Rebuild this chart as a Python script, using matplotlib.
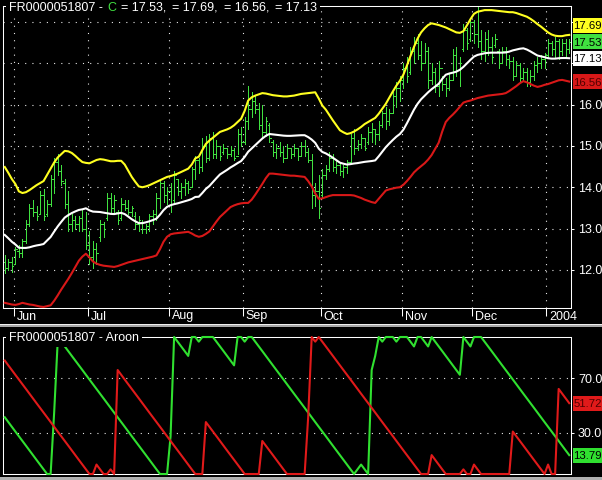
"""
plot.py
───────
Daily price bars with an upper / lower channel (and its mid line) on top,
Aroon up / down underneath, in the look of an old terminal screenshot.

Output: out.png (602 x 480 px)
"""

import numpy as np
import pandas as pd
import matplotlib
matplotlib.use("Agg")
import matplotlib.pyplot as plt
from matplotlib.patches import Rectangle
from matplotlib.ticker import FixedLocator, FuncFormatter, NullFormatter


# ── Data ───────────────────────────────────────────────────────────────
SYMBOL = "FR0000051807"
HOLIDAYS = ["2003-12-25", "2003-12-26", "2004-01-01"]
DATES = pd.bdate_range("2003-05-28", "2004-01-12").drop(pd.to_datetime(HOLIDAYS))

HIGH = [
    12.35, 12.25, 12.32, 12.55, 12.6, 12.75, 13.2, 13.6, 13.7, 13.55,
    13.9, 13.95, 13.7, 14.3, 14.7, 14.8, 14.55, 14.2, 13.9, 13.35,
    13.3, 13.3, 13.45, 13.4, 12.95, 12.7, 12.65, 13.2, 13.15, 13.85,
    13.85, 13.8, 13.45, 13.75, 13.7, 13.7, 13.55, 13.4, 13.3, 13.2,
    13.1, 13.35, 13.45, 13.85, 14.2, 14.15, 14.0, 14.1, 14.4, 14.2,
    14.1, 14.2, 14.15, 14.5, 14.75, 14.7, 15.2, 15.25, 15.3, 15.35,
    15.15, 15.0, 15.05, 14.95, 15.0, 14.95, 15.4, 15.45, 15.7, 16.45,
    16.3, 16.2, 16.05, 16.0, 15.7, 15.55, 15.15, 15.05, 15.1, 15.0,
    15.05, 14.95, 15.05, 14.95, 15.1, 15.15, 14.95, 14.8, 14.1, 14.3,
    14.45, 14.55, 14.85, 14.8, 14.65, 14.6, 14.55, 14.65, 15.3, 15.4,
    15.15, 15.3, 15.2, 15.45, 15.55, 15.4, 15.6, 15.85, 15.95, 15.9,
    16.3, 16.55, 16.7, 17.0, 17.15, 17.4, 17.65, 17.7, 17.55, 17.5,
    17.4, 17.0, 16.9, 17.05, 16.7, 16.65, 16.75, 17.35, 17.4, 17.15,
    17.95, 17.85, 18.1, 18.05, 18.38, 17.8, 17.75, 17.8, 17.65, 17.7,
    17.35, 17.4, 17.4, 17.2, 17.15, 17.05, 17.0, 16.9, 16.9, 16.85,
    17.05, 17.15, 17.2, 17.25, 17.6, 17.55, 17.65, 17.6, 17.6, 17.6,
    17.6,
]
LOW = [
    11.92, 12.0, 11.95, 12.15, 12.3, 12.3, 12.65, 13.05, 13.3, 13.2,
    13.35, 13.2, 13.3, 13.55, 13.85, 14.3, 14.05, 13.5, 12.95, 12.95,
    13.0, 12.95, 12.95, 12.5, 12.15, 12.05, 12.15, 12.7, 12.8, 13.2,
    13.4, 13.4, 13.1, 13.2, 13.45, 13.35, 13.3, 13.0, 12.95, 12.9,
    12.9, 12.95, 13.1, 13.2, 13.5, 13.65, 13.6, 13.4, 13.65, 13.8,
    13.75, 13.8, 13.85, 14.0, 14.2, 14.35, 14.4, 14.6, 14.65, 14.7,
    14.7, 14.65, 14.8, 14.7, 14.75, 14.65, 14.8, 15.0, 15.05, 15.4,
    15.7, 15.8, 15.4, 15.2, 15.25, 15.1, 14.75, 14.7, 14.75, 14.6,
    14.7, 14.7, 14.75, 14.65, 14.75, 14.75, 14.6, 13.5, 13.55, 13.25,
    13.75, 14.2, 14.4, 14.4, 14.35, 14.3, 14.25, 14.35, 14.6, 14.8,
    14.9, 14.95, 14.9, 15.05, 15.1, 15.05, 15.15, 15.45, 15.4, 15.5,
    15.8, 15.95, 16.1, 16.4, 16.55, 16.75, 17.0, 17.1, 16.85, 17.0,
    16.4, 16.5, 16.3, 16.2, 16.35, 16.2, 16.35, 16.6, 16.7, 16.45,
    17.3, 17.35, 17.55, 17.5, 17.4, 17.1, 17.05, 17.2, 17.0, 17.4,
    16.9, 17.0, 16.95, 16.9, 16.6, 16.7, 16.55, 16.6, 16.45, 16.45,
    16.6, 16.8, 16.9, 16.9, 17.15, 17.2, 17.15, 17.1, 17.2, 17.15,
    17.25,
]
OPEN = [
    12.2, 12.05, 12.2, 12.15, 12.45, 12.4, 12.7, 13.1, 13.5, 13.4,
    13.35, 13.8, 13.35, 13.6, 14.2, 14.6, 14.4, 14.1, 13.6, 13.1,
    13.2, 13.1, 13.25, 13.0, 12.6, 12.3, 12.5, 12.8, 13.1, 13.25,
    13.75, 13.5, 13.4, 13.25, 13.6, 13.5, 13.4, 13.3, 13.1, 13.15,
    13.0, 13.05, 13.3, 13.35, 13.75, 14.1, 13.8, 13.9, 13.7, 14.2,
    13.9, 14.0, 14.1, 14.0, 14.45, 14.65, 14.5, 15.0, 14.7, 15.2,
    14.8, 15.0, 14.85, 14.95, 14.8, 14.9, 14.75, 15.3, 15.1, 15.6,
    15.9, 16.1, 15.9, 15.5, 15.35, 15.5, 15.1, 14.85, 14.95, 14.85,
    14.7, 14.95, 14.8, 14.95, 14.75, 15.0, 14.85, 14.65, 13.8, 13.9,
    13.8, 14.3, 14.45, 14.7, 14.5, 14.55, 14.4, 14.5, 14.6, 15.2,
    14.95, 15.05, 15.2, 15.1, 15.35, 15.4, 15.3, 15.5, 15.8, 15.6,
    15.8, 16.2, 16.4, 16.6, 16.9, 16.8, 17.3, 17.5, 17.2, 17.0,
    17.3, 16.6, 16.8, 16.45, 16.9, 16.5, 16.4, 16.6, 17.2, 16.85,
    17.35, 17.8, 17.6, 18.0, 17.7, 17.55, 17.3, 17.6, 17.4, 17.45,
    17.3, 17.0, 17.3, 17.1, 17.05, 16.7, 16.95, 16.65, 16.8, 16.55,
    16.7, 16.95, 17.0, 17.1, 17.2, 17.5, 17.35, 17.55, 17.3, 17.5,
    17.35,
]
CLOSE = [
    12.05, 12.2, 12.1, 12.5, 12.4, 12.7, 13.1, 13.5, 13.4, 13.3,
    13.8, 13.3, 13.6, 14.2, 14.6, 14.4, 14.15, 13.6, 13.1, 13.2,
    13.1, 13.25, 13.0, 12.6, 12.3, 12.5, 12.4, 13.1, 13.0, 13.75,
    13.5, 13.7, 13.2, 13.6, 13.5, 13.4, 13.5, 13.1, 13.2, 13.0,
    13.05, 13.3, 13.35, 13.75, 14.1, 13.8, 13.9, 13.6, 14.3, 13.9,
    14.0, 14.1, 13.95, 14.45, 14.65, 14.5, 15.0, 14.7, 15.2, 14.8,
    15.0, 14.75, 14.95, 14.8, 14.9, 14.7, 15.3, 15.1, 15.6, 15.9,
    16.1, 15.9, 15.5, 15.35, 15.6, 15.2, 14.85, 14.95, 14.85, 14.7,
    14.95, 14.8, 14.95, 14.75, 15.0, 14.85, 14.65, 13.8, 13.9, 13.5,
    14.3, 14.45, 14.7, 14.5, 14.55, 14.4, 14.5, 14.6, 15.2, 14.95,
    15.05, 15.2, 14.95, 15.35, 15.4, 15.3, 15.5, 15.8, 15.6, 15.8,
    16.2, 16.4, 16.6, 16.9, 16.7, 17.3, 17.5, 17.2, 17.0, 17.3,
    16.6, 16.8, 16.45, 16.9, 16.5, 16.4, 16.6, 17.2, 16.85, 17.0,
    17.8, 17.5, 18.0, 17.7, 17.55, 17.3, 17.6, 17.4, 17.15, 17.6,
    17.0, 17.3, 17.1, 17.05, 16.7, 16.95, 16.65, 16.8, 16.55, 16.7,
    16.95, 17.0, 17.1, 17.2, 17.5, 17.35, 17.55, 17.3, 17.5, 17.35,
    17.53,
]

# channel: yellow upper, red lower (white line is their midpoint)
UPPER = [
    14.49, 14.35, 14.2, 14.08, 13.9, 13.86, 13.88, 13.93, 13.99, 14.05,
    14.1, 14.15, 14.3, 14.45, 14.6, 14.72, 14.8, 14.88, 14.87, 14.83,
    14.76, 14.68, 14.61, 14.59, 14.58, 14.62, 14.66, 14.68, 14.67, 14.65,
    14.63, 14.63, 14.64, 14.64, 14.55, 14.4, 14.25, 14.13, 14.02, 14.0,
    14.02, 14.05, 14.09, 14.13, 14.17, 14.21, 14.25, 14.27, 14.3, 14.33,
    14.37, 14.41, 14.45, 14.55, 14.7, 14.74, 14.9, 15.05, 15.13, 15.2,
    15.27, 15.34, 15.37, 15.4, 15.44, 15.5, 15.58, 15.66, 15.85, 16.1,
    16.18, 16.22, 16.25, 16.28, 16.27, 16.25, 16.23, 16.22, 16.21, 16.2,
    16.2, 16.21, 16.22, 16.24, 16.26, 16.27, 16.28, 16.29, 16.3, 16.15,
    15.98, 15.88, 15.75, 15.62, 15.5, 15.38, 15.33, 15.29, 15.31, 15.35,
    15.4, 15.46, 15.53, 15.58, 15.63, 15.68, 15.78, 15.9, 16.02, 16.17,
    16.32, 16.46, 16.58, 16.73, 16.95, 17.18, 17.4, 17.6, 17.75, 17.85,
    17.93, 17.97, 17.95, 17.93, 17.9, 17.87, 17.83, 17.79, 17.75, 17.74,
    17.78, 17.92, 18.07, 18.2, 18.25, 18.27, 18.29, 18.29, 18.29, 18.28,
    18.27, 18.26, 18.25, 18.24, 18.24, 18.22, 18.19, 18.16, 18.13, 18.08,
    18.02, 17.95, 17.89, 17.82, 17.75, 17.7, 17.67, 17.66, 17.66, 17.68,
    17.69,
]
LOWER = [
    11.2, 11.18, 11.16, 11.15, 11.17, 11.2, 11.18, 11.16, 11.15, 11.13,
    11.11, 11.1, 11.12, 11.14, 11.25, 11.38, 11.52, 11.65, 11.78, 11.92,
    12.07, 12.22, 12.32, 12.39, 12.3, 12.2, 12.15, 12.12, 12.1, 12.09,
    12.08, 12.07, 12.09, 12.12, 12.15, 12.18, 12.2, 12.22, 12.24, 12.26,
    12.28, 12.3, 12.32, 12.35, 12.5, 12.68, 12.8, 12.86, 12.88, 12.89,
    12.9, 12.91, 12.92, 12.88, 12.83, 12.8, 12.82, 12.87, 12.93, 13.05,
    13.17, 13.28, 13.36, 13.44, 13.52, 13.56, 13.59, 13.61, 13.62, 13.62,
    13.7, 13.82, 13.95, 14.08, 14.22, 14.33, 14.33, 14.32, 14.31, 14.3,
    14.29, 14.28, 14.28, 14.27, 14.26, 14.25, 14.15, 14.02, 13.85, 13.72,
    13.73, 13.76, 13.79, 13.81, 13.81, 13.81, 13.81, 13.81, 13.81, 13.8,
    13.77, 13.74, 13.7, 13.67, 13.64, 13.62, 13.72, 13.82, 13.92, 13.95,
    13.97, 13.99, 14.0, 14.06, 14.15, 14.25, 14.36, 14.44, 14.51, 14.58,
    14.67, 14.78, 14.93, 15.08, 15.35, 15.58, 15.68, 15.76, 15.85, 15.95,
    16.05, 16.08, 16.1, 16.13, 16.16, 16.18, 16.2, 16.22, 16.23, 16.24,
    16.25, 16.26, 16.28, 16.33, 16.39, 16.45, 16.52, 16.57, 16.54, 16.5,
    16.46, 16.43, 16.45, 16.48, 16.5, 16.53, 16.56, 16.59, 16.6, 16.58,
    16.56,
]

AROON_UP = [
    41.4, 37.9, 34.5, 31.0, 27.6, 24.1, 20.7, 17.2, 13.8, 10.3,
    6.9, 3.4, 0, 0, 44.8, 96.6, 96.6, 93.1, 89.7, 86.2,
    82.8, 79.3, 75.9, 72.4, 69.0, 65.5, 62.1, 58.6, 55.2, 51.7,
    48.3, 44.8, 41.4, 37.9, 34.5, 31.0, 27.6, 24.1, 20.7, 17.2,
    13.8, 10.3, 6.9, 3.4, 0, 0, 0, 27.6, 100, 96.6,
    93.1, 89.7, 86.2, 100, 100, 96.6, 100, 100, 100, 100,
    96.6, 93.1, 89.7, 86.2, 82.8, 79.3, 100, 100, 96.6, 100,
    100, 96.6, 93.1, 89.7, 86.2, 82.8, 79.3, 75.9, 72.4, 69.0,
    65.5, 62.1, 58.6, 55.2, 51.7, 48.3, 44.8, 41.4, 37.9, 34.5,
    31.0, 27.6, 24.1, 20.7, 17.2, 13.8, 10.3, 6.9, 3.4, 0,
    3.4, 6.9, 3.4, 0, 75.9, 86.2, 100, 96.6, 100, 100,
    100, 96.6, 100, 100, 100, 96.6, 93.1, 100, 100, 96.6,
    93.1, 100, 96.6, 93.1, 89.7, 86.2, 82.8, 79.3, 75.9, 72.4,
    100, 96.6, 93.1, 100, 100, 100, 96.6, 93.1, 89.7, 86.2,
    82.8, 79.3, 75.9, 72.4, 69.0, 65.5, 62.1, 58.6, 55.2, 51.7,
    48.3, 44.8, 41.4, 37.9, 34.5, 31.0, 27.6, 24.1, 20.7, 17.2,
    13.79,
]
AROON_DOWN = [
    82.8, 79.3, 75.9, 72.4, 69.0, 65.5, 62.1, 58.6, 55.2, 51.7,
    48.3, 44.8, 41.4, 37.9, 34.5, 31.0, 27.6, 24.1, 20.7, 17.2,
    13.8, 10.3, 6.9, 3.4, 0, 0, 6.9, 3.4, 0, 0,
    3.4, 0, 75.9, 72.4, 69.0, 65.5, 62.1, 58.6, 55.2, 51.7,
    48.3, 44.8, 41.4, 37.9, 34.5, 31.0, 27.6, 24.1, 20.7, 17.2,
    13.8, 10.3, 6.9, 3.4, 0, 0, 0, 37.9, 34.5, 31.0,
    27.6, 24.1, 20.7, 17.2, 13.8, 10.3, 6.9, 3.4, 0, 0,
    0, 0, 0, 24.1, 20.7, 17.2, 13.8, 10.3, 6.9, 3.4,
    0, 0, 0, 0, 0, 0, 41.4, 100, 96.6, 100,
    96.6, 93.1, 89.7, 86.2, 82.8, 79.3, 75.9, 72.4, 69.0, 65.5,
    62.1, 58.6, 55.2, 51.7, 48.3, 44.8, 41.4, 37.9, 34.5, 31.0,
    27.6, 24.1, 20.7, 17.2, 13.8, 10.3, 6.9, 3.4, 0, 0,
    0, 13.8, 10.3, 6.9, 3.4, 0, 0, 0, 0, 0,
    3.4, 0, 0, 6.9, 3.4, 0, 0, 0, 0, 0,
    0, 0, 0, 0, 31.0, 27.6, 24.1, 20.7, 17.2, 13.8,
    10.3, 6.9, 3.4, 0, 6.9, 0, 0, 62.1, 58.6, 55.2,
    51.72,
]

PRICE_TICKS = [12, 13, 14, 15, 16, 17, 18]
AROON_TICKS = [30, 70]


# ── Look ───────────────────────────────────────────────────────────────
W, H = 602, 480
BG = "black"
FG = "white"
BAR_GREEN = "#40e040"
YELLOW = "#ffff20"
RED = "#d81818"
AR_GREEN = "#30e030"
AR_RED = "#e01a1a"
GRID_LS = (0, (1, 5.5))
PX = 0.72               # one pixel, in points
BOX_GAP = 16.5          # min px between readout box centres
BOX_FONT = 8.2          # readout text, just small enough to fit the edge

plt.rcParams["font.family"] = ["Liberation Sans", "DejaVu Sans"]
plt.rcParams["font.size"] = 9


# ── Helpers ────────────────────────────────────────────────────────────
def px_rect(left, top, right, bottom):
    """Axes rect in figure fractions from pixel edges (origin top-left)."""
    return [left / W, 1 - bottom / H, (right - left) / W, (bottom - top) / H]


def fmt(v):
    return f"{np.floor(v * 100 + 0.5) / 100:.2f}"


def style_axes(ax, ticks):
    ax.set_facecolor(BG)
    for sp in ax.spines.values():
        sp.set_color(FG)
        sp.set_linewidth(0.75)
    ax.yaxis.tick_right()
    ax.yaxis.set_major_locator(FixedLocator(ticks))
    ax.tick_params(axis="y", colors=FG, direction="out", length=2.5,
                   width=0.75, pad=2.5, labelsize=9)


def to_top_px(ax, value):
    """Pixel row (from top) of a data value on the y axis of ax."""
    return H - ax.transData.transform((0, value))[1]


def value_box(fig, y_top_px, text, face, ink):
    """Coloured readout box hanging off the right edge, centred on y."""
    fig.add_artist(Rectangle(
        (572.5 / W, 1 - (y_top_px + 7.5) / H), 30 / W, 15 / H,
        transform=fig.transFigure, facecolor=face, edgecolor="none",
        zorder=5))
    fig.text(573.5 / W, 1 - y_top_px / H, text, color=ink, fontsize=BOX_FONT,
             ha="left", va="center_baseline", zorder=6)


def label_uncovered(ax, box_rows):
    """Axis labels that a readout box sits on are left blank."""
    def _fmt(v, _pos):
        y = to_top_px(ax, v)
        return "" if any(abs(y - b) < 9 for b in box_rows) else f"{v:.1f}"
    ax.yaxis.set_major_formatter(FuncFormatter(_fmt))


def chained_text(fig, x_px, base_px, pieces):
    """Draw text pieces side by side on one baseline with a black ground."""
    renderer = fig.canvas.get_renderer()
    x = x_px
    for text, color, gap in pieces:
        t = fig.text(x / W, 1 - base_px / H, text, color=color, fontsize=9,
                     ha="left", va="baseline", zorder=4,
                     bbox=dict(facecolor=BG, edgecolor="none", pad=2.2))
        x = t.get_window_extent(renderer).x1 + gap


# ── Main ───────────────────────────────────────────────────────────────
def main():
    idx = np.arange(len(DATES))
    high, low = np.array(HIGH), np.array(LOW)
    opn, close = np.array(OPEN), np.array(CLOSE)
    upper, lower = np.array(UPPER), np.array(LOWER)
    mid = (upper + lower) / 2

    month_start = np.flatnonzero(np.r_[True, DATES.month[1:] != DATES.month[:-1]])[1:]
    month_pos = month_start - 0.5
    month_lbl = [str(d.year) if d.month == 1 else d.strftime("%b")
                 for d in DATES[month_start]]

    fig = plt.figure(figsize=(W / 100, H / 100), dpi=100, facecolor=BG)

    # ── price panel ──
    ax = fig.add_axes(px_rect(3, 6, 571, 308))
    style_axes(ax, PRICE_TICKS)
    ax.set_xlim(-0.5, len(idx) - 0.5)
    ax.set_ylim(11.075, 18.39)

    ax.xaxis.set_major_locator(FixedLocator(month_pos))
    ax.xaxis.set_major_formatter(NullFormatter())
    ax.tick_params(axis="x", colors=FG, direction="out", length=5.5, width=0.75)
    ax.grid(True, color="#e6e6e6", lw=0.8, linestyle=GRID_LS)
    ax.set_axisbelow(True)
    for pos, lbl in zip(month_pos, month_lbl):
        ax.annotate(lbl, xy=(pos, 0), xycoords=("data", "axes fraction"),
                    xytext=(3, -2.5), textcoords="offset pixels",
                    ha="left", va="top", color=FG, fontsize=9,
                    annotation_clip=False)

    # OHLC bars: 1 px stem, short open tick left, close tick right
    bar_kw = dict(color=BAR_GREEN, lw=PX, antialiased=False, zorder=2)
    ax.vlines(idx, low, high, **bar_kw)
    ax.hlines(opn, idx - 0.4, idx, **bar_kw)
    ax.hlines(close, idx, idx + 0.4, **bar_kw)

    ax.plot(idx, upper, color=YELLOW, lw=1.5, zorder=3)
    ax.plot(idx, mid, color=FG, lw=1.5, zorder=3)
    ax.plot(idx, lower, color=RED, lw=1.5, zorder=3)

    # ── aroon panel ──
    ax2 = fig.add_axes(px_rect(3, 337, 571, 474))
    style_axes(ax2, AROON_TICKS)
    ax2.set_xlim(-0.5, len(idx) - 0.5)
    ax2.set_ylim(0, 100)
    ax2.set_xticks([])
    ax2.grid(True, axis="y", color="#e6e6e6", lw=0.8, linestyle=GRID_LS)
    ax2.set_axisbelow(True)
    ax2.plot(idx, AROON_UP, color=AR_GREEN, lw=1.5, zorder=3, clip_on=False)
    ax2.plot(idx, AROON_DOWN, color=AR_RED, lw=1.5, zorder=3, clip_on=False)

    # ── panel separator / bottom strip ──
    fig.add_artist(Rectangle((0, 1 - 327 / H), 1, 3 / H, transform=fig.transFigure,
                             facecolor="#a8a8a8", edgecolor="none"))
    fig.add_artist(Rectangle((0, 1 - 325 / H), 1, 1.5 / H, transform=fig.transFigure,
                             facecolor="#f0f0f0", edgecolor="none"))
    fig.add_artist(Rectangle((0, 0), 1, 3 / H, transform=fig.transFigure,
                             facecolor="#b0b0b0", edgecolor="none"))

    # ── titles ──
    chained_text(fig, 9, 10.7, [
        (f"{SYMBOL} -", FG, 5),
        ("C", BAR_GREEN, 4),
        (f"= {fmt(close[-1])},", FG, 6),
        (f"= {fmt(upper[-1])},", FG, 6),
        (f"= {fmt(lower[-1])},", FG, 6),
        (f"= {fmt(mid[-1])}", FG, 0),
    ])
    chained_text(fig, 9, 340.7, [(f"{SYMBOL} - Aroon", FG, 0)])

    # ── last-value readouts (pushed apart so they do not overlap) ──
    boxes = [
        (lower[-1], RED, "#500000"),
        (mid[-1], FG, "black"),
        (close[-1], BAR_GREEN, "black"),
        (upper[-1], YELLOW, "black"),
    ]
    rows = []
    for value, face, ink in boxes:          # bottom to top
        y = to_top_px(ax, value)
        if rows and y > rows[-1] - BOX_GAP:
            y = rows[-1] - BOX_GAP
        value_box(fig, y, fmt(value), face, ink)
        rows.append(y)
    label_uncovered(ax, rows)

    rows2 = []
    for value, face, ink in [(AROON_DOWN[-1], AR_RED, "#500000"),
                             (AROON_UP[-1], AR_GREEN, "black")]:
        y = to_top_px(ax2, value)
        value_box(fig, y, fmt(value), face, ink)
        rows2.append(y)
    label_uncovered(ax2, rows2)

    fig.savefig("out.png", dpi=100, facecolor=BG)
    plt.close(fig)


if __name__ == "__main__":
    main()
